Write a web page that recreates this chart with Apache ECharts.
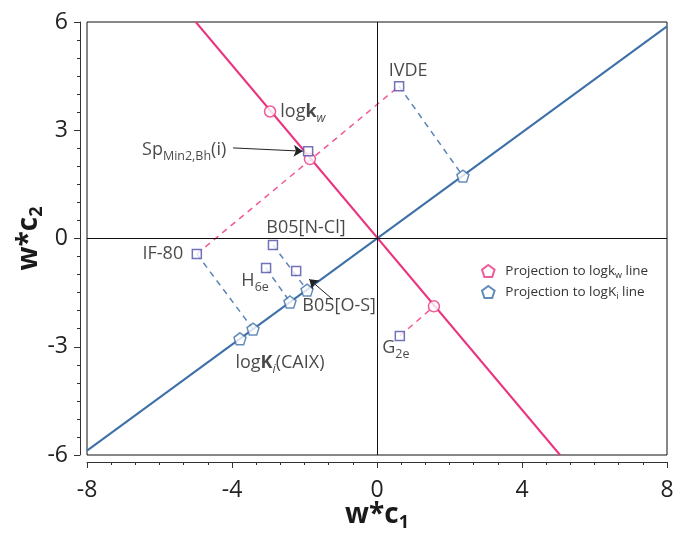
<!DOCTYPE html>
<html>
<head>
<meta charset="utf-8">
<script src="https://cdn.jsdelivr.net/npm/echarts@6/dist/echarts.min.js"></script>
<style>html,body{margin:0;padding:0;background:#fff;}#c{width:675px;height:535px;}</style>
</head>
<body>
<div id="c"></div>
<script>
// ---- data ----
const pointNames = ['IVDE', 'Sp', 'B05[N-Cl]', 'IF-80', 'H6e', 'B05[O-S]', 'G2e'];
const pointX = [0.61, -1.90, -2.87, -4.97, -3.06, -2.23, 0.63];
const pointY = [4.22, 2.42, -0.18, -0.43, -0.82, -0.90, -2.70];

const blueLineX = [-8, 8];
const blueLineY = [-5.88, 5.88];
const pinkLineX = [-5, 5.05];
const pinkLineY = [6, -6];

// projections on logK_i line (blue); last one is the line-label marker
const blueProjNames = ['IVDE', 'IF-80', 'H6e', 'B05[N-Cl]', 'logKi(CAIX)'];
const blueProjX = [2.37, -3.42, -2.40, -1.93, -3.78];
const blueProjY = [1.73, -2.51, -1.76, -1.43, -2.78];

// projections on logk_w line (pink); first one is the line-label marker
const pinkProjNames = ['logkw', 'IF-80/IVDE', 'G2e'];
const pinkProjX = [-2.95, -1.85, 1.57];
const pinkProjY = [3.52, 2.20, -1.88];

// dashed projection links: [point name, projection name]
const blueLinks = [['IVDE', 'IVDE'], ['IF-80', 'IF-80'], ['H6e', 'H6e'], ['B05[N-Cl]', 'B05[N-Cl]']];
const pinkLinks = [['IF-80', 'IVDE'], ['G2e', 'G2e']];

// annotation arrows (from, to)
const arrowFromX = [-3.97, -1.21];
const arrowFromY = [2.51, -1.70];
const arrowToX = [-2.05, -1.87];
const arrowToY = [2.42, -1.13];

const xTicks = [-8, -4, 0, 4, 8];
const yTicks = [-6, -3, 0, 3, 6];

// ---- build ----
const PINK = '#EA3480';
const BLUE = '#3D6FA8';
const SQ = '#4F4FAA';
const PENT = 'path://M50,0 L97.6,34.5 L79.4,90.5 L20.6,90.5 L2.4,34.5 Z';
const FONT = 'Open Sans';

function pt(name) { const i = pointNames.indexOf(name); return [pointX[i], pointY[i]]; }
function bp(name) { const i = blueProjNames.indexOf(name); return [blueProjX[i], blueProjY[i]]; }
function pp(name) { const i = pinkProjNames.indexOf(name); return [pinkProjX[i], pinkProjY[i]]; }

const richBase = {
  t: { fontSize: 18, fontFamily: FONT, color: '#1a1a1a', lineHeight: 20 },
  b: { fontSize: 18, fontFamily: FONT, color: '#1a1a1a', fontWeight: 'bold', lineHeight: 20 },
  s: { fontSize: 12.5, fontFamily: FONT, color: '#1a1a1a', lineHeight: 12, padding: [13, 0, 0, 0] },
  si: { fontSize: 12.5, fontFamily: FONT, color: '#1a1a1a', fontStyle: 'italic', lineHeight: 12, padding: [13, 0, 0, 0] }
};

const pointLabels = {
  'IVDE': { text: '{t|IVDE}', offset: [9, -15] },
  'Sp': { text: '{t|Sp}{s|Min2,Bh}{t|(i)}', offset: [-124, -1] },
  'B05[N-Cl]': { text: '{t|B05[N-Cl]}', offset: [33, -17] },
  'IF-80': { text: '{t|IF-80}', offset: [-34, 0] },
  'H6e': { text: '{t|H}{s|6e}', offset: [-11, 13] },
  'B05[O-S]': { text: '{t|B05[O-S]}', offset: [43, 35] },
  'G2e': { text: '{t|G}{s|2e}', offset: [-4, 12] }
};

const squareData = pointNames.map((n, i) => ({
  value: [pointX[i], pointY[i]],
  label: {
    show: true, position: 'inside', offset: pointLabels[n].offset,
    formatter: pointLabels[n].text, rich: richBase
  }
}));

const blueProjData = blueProjNames.map((n, i) => {
  const d = { value: [blueProjX[i], blueProjY[i]] };
  if (n === 'logKi(CAIX)') {
    d.label = { show: true, position: 'inside', offset: [40, 24],
      formatter: '{t|log}{b|K}{si|i}{t|(CAIX)}', rich: richBase };
  }
  return d;
});
const pinkProjData = pinkProjNames.map((n, i) => {
  const d = { value: [pinkProjX[i], pinkProjY[i]] };
  if (n === 'logkw') {
    d.label = { show: true, position: 'right', distance: 4,
      formatter: '{t|log}{b|k}{si|w}', rich: richBase };
  }
  return d;
});

const blueLinkData = blueLinks.map(l => ({ coords: [pt(l[0]), bp(l[1])] }));
const pinkLinkData = pinkLinks.map(l => ({ coords: [pt(l[0]), l[1] === 'IVDE' ? pt('IVDE') : pp(l[1])] }));
const arrowData = arrowFromX.map((x, i) => ({ coords: [[x, arrowFromY[i]], [arrowToX[i], arrowToY[i]]] }));

const axisNameRich = {
  n: { fontSize: 28, fontWeight: 'bold', fontFamily: FONT, color: '#1a1a1a', lineHeight: 30 },
  ns: { fontSize: 18, fontWeight: 'bold', fontFamily: FONT, color: '#1a1a1a', lineHeight: 18, padding: [16, 0, 0, 0] }
};

const chart = echarts.init(document.getElementById('c'), null, { renderer: 'canvas' });
chart.setOption({
  animation: false,
  backgroundColor: '#fff',
  grid: { left: 87, right: 8, top: 22, bottom: 80, outerBoundsMode: 'none', containLabel: false,
    show: true, borderColor: '#111', borderWidth: 1, backgroundColor: 'transparent' },
  legend: {
    orient: 'vertical', left: 476, top: 257, itemGap: 3, itemWidth: 24, itemHeight: 12,
    data: [
      { name: 'pinkProj', icon: PENT },
      { name: 'blueProj', icon: PENT }
    ],
    formatter: function (name) {
      return name === 'pinkProj' ? '{l|Projection to logk}{ls|w}{l| line}' : '{l|Projection to logK}{ls|i}{l| line}';
    },
    textStyle: {
      rich: {
        l: { fontSize: 13.5, fontFamily: FONT, color: '#333', lineHeight: 16 },
        ls: { fontSize: 9, fontFamily: FONT, color: '#333', lineHeight: 9, padding: [9, 0, 0, 0] }
      }
    }
  },
  xAxis: [{
    type: 'value', min: -8, max: 8, interval: 4, position: 'bottom', offset: 7,
    axisLine: { show: true, onZero: false, lineStyle: { color: '#333', width: 1 } },
    axisTick: { show: true, inside: false, length: 6, lineStyle: { color: '#333' } },
    minorTick: { show: true, splitNumber: 6, length: 3, lineStyle: { color: '#333' } },
    splitLine: { show: false },
    axisLabel: { fontSize: 23, fontFamily: FONT, color: '#222', margin: 17,
      formatter: v => xTicks.includes(v) ? String(v) : '' },
    name: '{n|w*c}{ns|1}', nameLocation: 'middle', nameGap: 38, nameMoveOverlap: false,
    nameTextStyle: { rich: axisNameRich }
  }],
  yAxis: [{
    type: 'value', min: -6, max: 6, interval: 3, position: 'left', offset: 7,
    axisLine: { show: true, onZero: false, lineStyle: { color: '#333', width: 1 } },
    axisTick: { show: true, inside: false, length: 6, lineStyle: { color: '#333' } },
    minorTick: { show: true, splitNumber: 6, length: 3, lineStyle: { color: '#333' } },
    splitLine: { show: false },
    axisLabel: { fontSize: 23, fontFamily: FONT, color: '#222', margin: 12,
      formatter: v => yTicks.includes(v) ? String(v) : '' },
    name: '{n|w*c}{ns|2}', nameLocation: 'middle', nameGap: 36, nameRotate: 90, nameMoveOverlap: false,
    nameTextStyle: { rich: axisNameRich }
  }],
  series: [
    {
      type: 'line', name: 'blueLine', data: blueLineX.map((x, i) => [x, blueLineY[i]]),
      showSymbol: false, lineStyle: { color: BLUE, width: 2 }, z: 3, silent: true,
      markLine: {
        silent: true, symbol: 'none', label: { show: false },
        lineStyle: { color: '#111', width: 1, type: 'solid' },
        data: [{ xAxis: 0 }, { yAxis: 0 }]
      }
    },
    {
      type: 'line', name: 'pinkLine', data: pinkLineX.map((x, i) => [x, pinkLineY[i]]),
      showSymbol: false, lineStyle: { color: PINK, width: 2 }, z: 3, silent: true
    },
    {
      type: 'lines', coordinateSystem: 'cartesian2d', data: blueLinkData, z: 2, silent: true,
      lineStyle: { color: '#5A85B6', width: 1.5, type: [6, 5], opacity: 1 }
    },
    {
      type: 'lines', coordinateSystem: 'cartesian2d', data: pinkLinkData, z: 2, silent: true,
      lineStyle: { color: '#F0589A', width: 1.5, type: [6, 5], opacity: 1 }
    },
    {
      type: 'lines', coordinateSystem: 'cartesian2d', data: arrowData, z: 6, silent: true,
      symbol: ['none', 'arrow'], symbolSize: [0, 9],
      lineStyle: { color: '#222', width: 1, opacity: 1 }
    },
    {
      type: 'scatter', name: 'blueProj', data: blueProjData, symbol: PENT, symbolSize: 12, z: 5,
      itemStyle: { color: '#fff', borderColor: BLUE, borderWidth: 1.5 }
    },
    {
      type: 'scatter', name: 'pinkProj', data: pinkProjData, symbol: 'circle', symbolSize: 11, z: 5,
      itemStyle: { color: '#fff', borderColor: PINK, borderWidth: 1.5 }
    },
    {
      type: 'scatter', name: 'points', data: squareData, symbol: 'rect', symbolSize: 9, z: 7,
      itemStyle: { color: '#fff', borderColor: SQ, borderWidth: 1.5 }
    }
  ]
});
</script>
</body>
</html>
